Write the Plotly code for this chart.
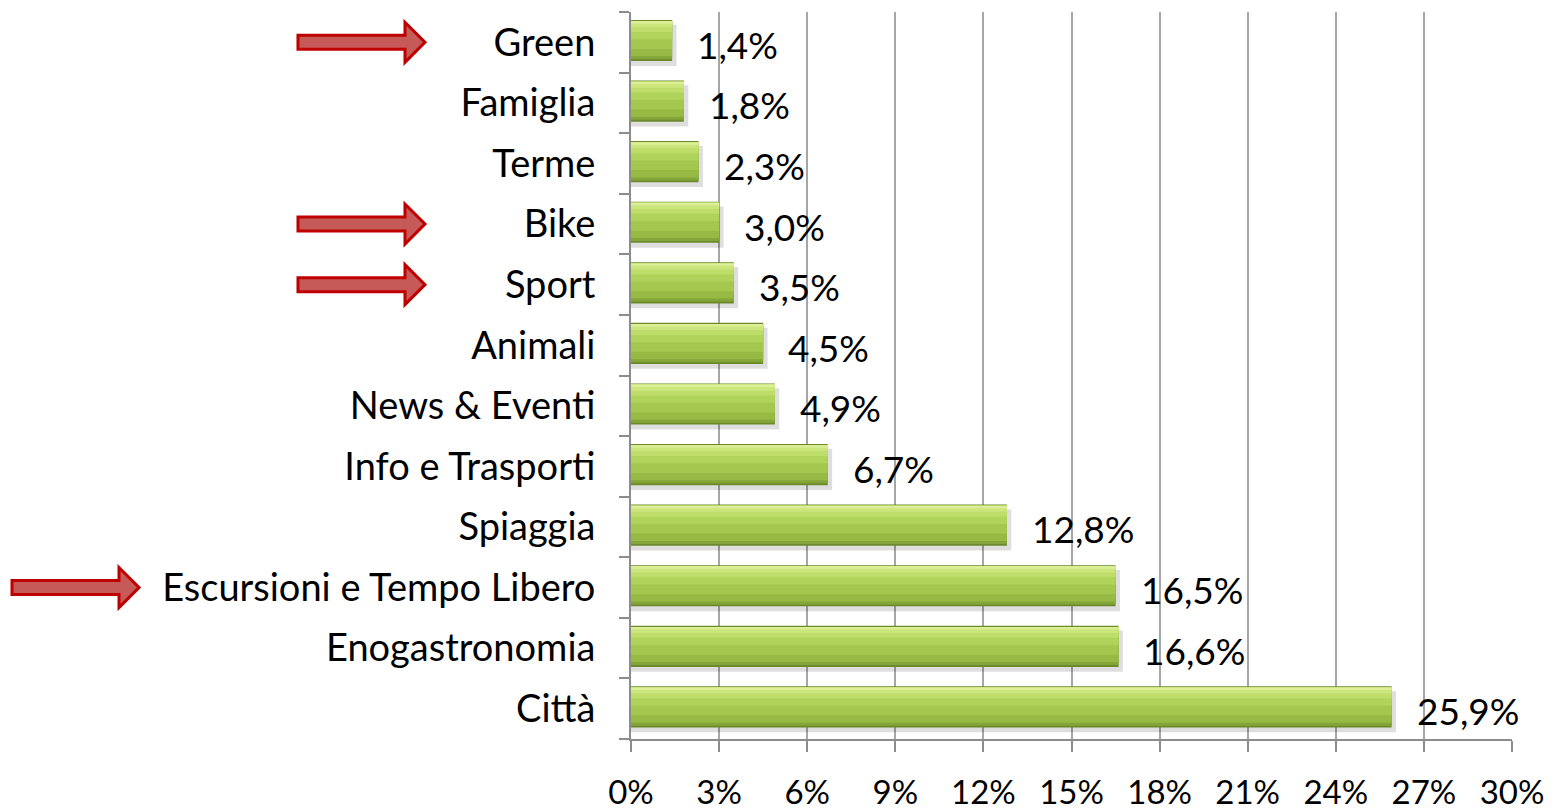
import plotly.graph_objects as go

# Daten (von unten nach oben)
categorie = ["Città", "Enogastronomia", "Escursioni e Tempo Libero", "Spiaggia",
             "Info e Trasporti", "News & Eventi", "Animali", "Sport", "Bike",
             "Terme", "Famiglia", "Green"]
valori = [25.9, 16.6, 16.5, 12.8, 6.7, 4.9, 4.5, 3.5, 3.0, 2.3, 1.8, 1.4]
tick_vals = [0, 3, 6, 9, 12, 15, 18, 21, 24, 27, 30]
tick_text = [f"{v}%" for v in tick_vals]
frecce = ["Green", "Bike", "Sport", "Escursioni e Tempo Libero"]

FONT = "Lato, Liberation Sans, sans-serif"
GRID = "#a6a6a6"
AXIS = "#8c8c8c"

fig = go.Figure()

# Schatten + Schichten für den Verlaufseffekt der Balken
layers = [
    # (x-extra, offset, width, color)
    (0.15, -0.39, 0.68, "rgba(0,0,0,0.13)"),
    (0.0, -0.31, 0.68, "#6c8a2b"),
    (0.0, -0.28, 0.63, "#84a538"),
    (0.0, -0.23, 0.58, "#97ba45"),
    (0.0, -0.11, 0.46, "#a3c74f"),
    (0.0, 0.05, 0.30, "#b0d35b"),
    (0.0, 0.17, 0.18, "#bedd6a"),
    (0.0, 0.25, 0.10, "#cbe67c"),
    (0.0, 0.31, 0.04, "#dcef98"),
]
for extra, off, w, col in layers:
    fig.add_trace(go.Bar(
        x=[v + extra for v in valori], y=categorie, orientation="h",
        offset=off, width=w,
        marker=dict(color=col, line=dict(width=0)),
        hoverinfo="skip", showlegend=False
    ))

# Datenbeschriftungen
annotations = []
for c, v in zip(categorie, valori):
    annotations.append(dict(
        x=v, y=c, xref="x", yref="y",
        text=f"{v:.1f}%".replace(".", ","),
        showarrow=False, xanchor="left", yanchor="middle",
        xshift=23, yshift=-2,
        font=dict(family=FONT, size=37, color="black")
    ))

# Rote Pfeile
shapes = []
for c in frecce:
    xa = -0.7026 if c == "Escursioni e Tempo Libero" else -0.378
    shapes.append(dict(
        type="path", xref="paper", yref="y",
        xsizemode="pixel", ysizemode="pixel",
        xanchor=xa, yanchor=c,
        path="M0,-7 L107,-7 L107,-20 L127,0 L107,20 L107,7 L0,7 Z",
        line=dict(color="#c00000", width=3),
        fillcolor="#c65a58", layer="above"
    ))

fig.update_layout(
    barmode="overlay",
    width=1554, height=808,
    margin=dict(l=623, r=50, t=4, b=77),
    plot_bgcolor="white", paper_bgcolor="white",
    annotations=annotations, shapes=shapes,
    xaxis=dict(
        range=[0, 30], tickvals=tick_vals, ticktext=tick_text,
        showgrid=True, gridcolor=GRID, gridwidth=2,
        zeroline=False, showline=True, linecolor=AXIS, linewidth=2,
        ticks="outside", ticklen=11, tickwidth=2, tickcolor=AXIS,
        ticklabelstandoff=12,
        tickfont=dict(family=FONT, size=33, color="black")
    ),
    yaxis=dict(
        categoryorder="array", categoryarray=categorie,
        showgrid=False, showline=True, linecolor=AXIS, linewidth=2,
        ticks="outside", tickson="boundaries", ticklen=10, tickwidth=2,
        tickcolor=AXIS, ticklabelstandoff=26,
        tickfont=dict(family=FONT, size=38, color="black")
    ),
)

fig.write_html("out.html")
